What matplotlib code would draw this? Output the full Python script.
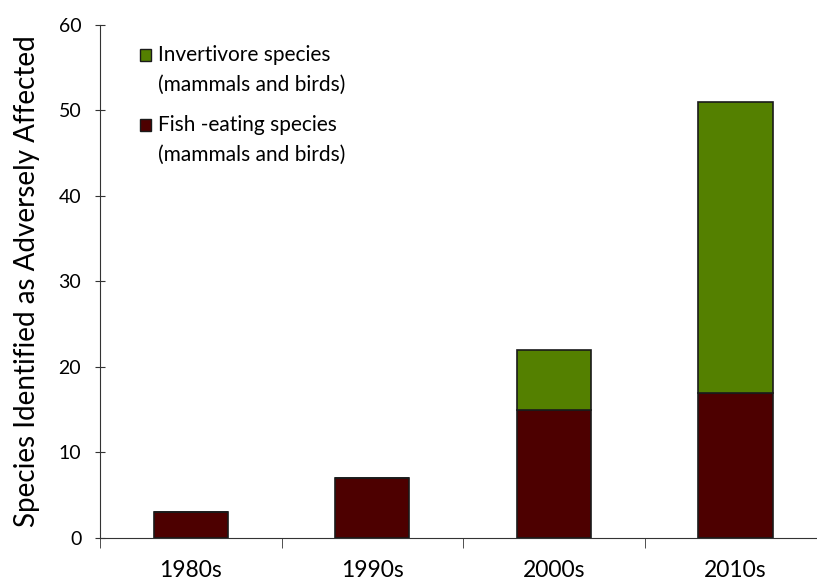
import matplotlib
matplotlib.use('Agg')
import matplotlib.pyplot as plt
from matplotlib.patches import Rectangle
import numpy as np

decades = ['1980s', '1990s', '2000s', '2010s']
fish_eating = [3, 7, 15, 17]
invertivore = [0, 0, 7, 34]

plt.rcParams['font.family'] = ['Lato', 'DejaVu Sans']

fig = plt.figure(figsize=(8.17, 5.84), dpi=100)
ax = fig.add_axes([0.1224, 0.0788, 0.8776, 0.8784])

green = '#548000'
maroon = '#4d0000'

x = np.arange(len(decades))
ax.bar(x, fish_eating, width=0.41, color=maroon, edgecolor='#1a1a1a', linewidth=1.2)
ax.bar(x, invertivore, width=0.41, bottom=fish_eating, color=green, edgecolor='#1a1a1a',
       linewidth=1.2)

ax.set_xlim(-0.5, 3.45)
ax.set_ylim(0, 60)
ax.set_yticks(range(0, 61, 10))
ax.set_xticks(x)
ax.set_xticklabels(decades, fontsize=16.5)
ax.set_xticks(np.arange(-0.5, 3.4, 1), minor=True)
ax.tick_params(axis='x', which='major', length=0, pad=16)
ax.tick_params(axis='x', which='minor', length=7, direction='out', color='#333333')
ax.tick_params(axis='y', which='major', length=7, direction='inout', labelsize=14, pad=10, color='#333333')
ax.set_ylabel('Species Identified as Adversely Affected', fontsize=20, labelpad=13)

for side in ['top', 'right']:
    ax.spines[side].set_visible(False)
for side in ['left', 'bottom']:
    ax.spines[side].set_color('#333333')

# legend drawn by hand so the swatch sits on the first line, like the original
legend_items = [('Invertivore species', '(mammals and birds)', green, 0.9415),
                ('Fish -eating species', '(mammals and birds)', maroon, 0.805)]
line_step = 30 / 513
for line1, line2, col, y in legend_items:
    ax.add_patch(Rectangle((0.056, y - 0.011), 0.0155, 0.022, transform=ax.transAxes,
                           facecolor=col, edgecolor='#1a1a1a', linewidth=1.0))
    ax.text(0.081, y, line1, transform=ax.transAxes, fontsize=15, va='center', ha='left')
    ax.text(0.081, y - line_step, line2, transform=ax.transAxes, fontsize=15, va='center', ha='left')

fig.savefig('out.png', dpi=100)
